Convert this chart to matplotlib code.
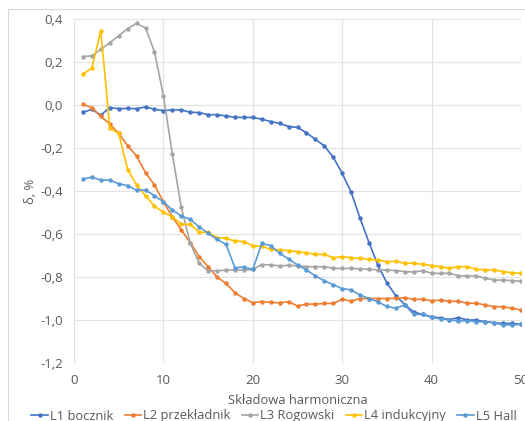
import matplotlib
matplotlib.use("Agg")
import matplotlib.pyplot as plt
from matplotlib.patches import Rectangle
from matplotlib.ticker import FuncFormatter

harmonics = list(range(1, 51))

l1_bocznik = [-0.034, -0.020, -0.047, -0.012, -0.017, -0.016, -0.017, -0.009, -0.020, -0.026,
              -0.023, -0.023, -0.034, -0.035, -0.045, -0.045, -0.051, -0.057, -0.058, -0.058,
              -0.066, -0.077, -0.085, -0.100, -0.104, -0.129, -0.160, -0.190, -0.243, -0.318,
              -0.406, -0.527, -0.640, -0.745, -0.828, -0.887, -0.928, -0.963, -0.974, -0.985,
              -0.990, -0.998, -0.989, -1.000, -1.000, -1.008, -1.013, -1.016, -1.016, -1.020]

l2_przekladnik = [0.003, -0.012, -0.053, -0.088, -0.132, -0.189, -0.237, -0.315, -0.372, -0.450,
                  -0.520, -0.581, -0.640, -0.705, -0.752, -0.800, -0.830, -0.873, -0.900, -0.920,
                  -0.914, -0.918, -0.920, -0.915, -0.935, -0.926, -0.926, -0.923, -0.923, -0.904,
                  -0.912, -0.900, -0.900, -0.900, -0.900, -0.899, -0.896, -0.904, -0.904, -0.910,
                  -0.908, -0.913, -0.913, -0.922, -0.922, -0.930, -0.938, -0.938, -0.946, -0.953]

l3_rogowski = [0.225, 0.229, 0.259, 0.290, 0.322, 0.355, 0.380, 0.358, 0.248, 0.043,
               -0.228, -0.476, -0.643, -0.736, -0.771, -0.771, -0.768, -0.768, -0.768, -0.765,
               -0.742, -0.744, -0.748, -0.746, -0.748, -0.752, -0.752, -0.752, -0.760, -0.760,
               -0.760, -0.762, -0.764, -0.767, -0.768, -0.770, -0.775, -0.777, -0.770, -0.783,
               -0.783, -0.783, -0.794, -0.795, -0.795, -0.806, -0.814, -0.814, -0.817, -0.820]

l4_indukcyjny = [0.144, 0.171, 0.346, -0.108, -0.132, -0.300, -0.372, -0.422, -0.470, -0.499,
                 -0.520, -0.555, -0.555, -0.592, -0.592, -0.617, -0.620, -0.633, -0.635, -0.654,
                 -0.657, -0.671, -0.674, -0.677, -0.682, -0.687, -0.695, -0.695, -0.710, -0.706,
                 -0.710, -0.713, -0.718, -0.721, -0.729, -0.727, -0.736, -0.736, -0.741, -0.747,
                 -0.752, -0.760, -0.752, -0.752, -0.764, -0.767, -0.767, -0.775, -0.780, -0.783]

l5_hall = [-0.344, -0.336, -0.349, -0.350, -0.366, -0.375, -0.396, -0.396, -0.421, -0.451,
           -0.488, -0.516, -0.532, -0.566, -0.597, -0.625, -0.648, -0.757, -0.754, -0.765,
           -0.644, -0.654, -0.690, -0.716, -0.744, -0.767, -0.795, -0.817, -0.836, -0.854,
           -0.860, -0.884, -0.900, -0.916, -0.937, -0.945, -0.930, -0.974, -0.974, -0.988,
           -0.995, -0.998, -1.005, -1.003, -1.008, -1.008, -1.013, -1.023, -1.023, -1.020]

series_names = ["L1 bocznik", "L2 przekładnik", "L3 Rogowski", "L4 indukcyjny", "L5 Hall"]
series_values = [l1_bocznik, l2_przekladnik, l3_rogowski, l4_indukcyjny, l5_hall]
colors = ["#4472C4", "#ED7D31", "#A5A5A5", "#FFC000", "#5B9BD5"]

x_ticks = [0, 10, 20, 30, 40, 50]
y_ticks = [-1.2, -1.0, -0.8, -0.6, -0.4, -0.2, 0.0, 0.2, 0.4]

plt.rcParams['font.family'] = ['Open Sans', 'DejaVu Sans']

W, H = 525, 421
fig = plt.figure(figsize=(W / 100, H / 100), dpi=100)
fig.patch.set_facecolor("white")

# chart area border
fig.patches.append(Rectangle((8 / W, -0.1), 1.2, 1 - 9 / H + 0.1, transform=fig.transFigure,
                             fill=False, edgecolor="#D9D9D9", linewidth=0.8))

ax = fig.add_axes([74 / W, 1 - 363 / H, (521 - 74) / W, (363 - 19) / H])

for name, vals, c in zip(series_names, series_values, colors):
    ax.plot(harmonics, vals, color=c, linewidth=1.2, marker="o", markersize=3.2,
            markeredgewidth=0, label=name)

ax.set_xlim(0, 50)
ax.set_ylim(-1.2, 0.4)
ax.set_xticks(x_ticks)
ax.set_yticks(y_ticks)
ax.yaxis.set_major_formatter(FuncFormatter(lambda v, p: f"{v:.1f}".replace(".", ",").replace("-0,0", "0,0")))
ax.grid(True, color="#E3E3E3", linewidth=0.9)
ax.set_axisbelow(True)
for s in ax.spines.values():
    s.set_visible(False)
ax.tick_params(length=0, labelsize=9.5, colors="#595959", pad=8)

ax.set_xlabel("Składowa harmoniczna", fontsize=9.3, color="#595959", labelpad=5)
ax.set_ylabel("δ, %", fontsize=9.3, color="#595959", labelpad=2)

leg = fig.legend(loc="center", bbox_to_anchor=(274 / W, 1 - 416 / H), ncol=5, frameon=False,
                 fontsize=9.3, handlelength=1.3, handletextpad=0.15, columnspacing=0.85,
                 labelcolor="#595959", borderaxespad=0, borderpad=0)

fig.savefig("out.png", dpi=100, facecolor="white")
